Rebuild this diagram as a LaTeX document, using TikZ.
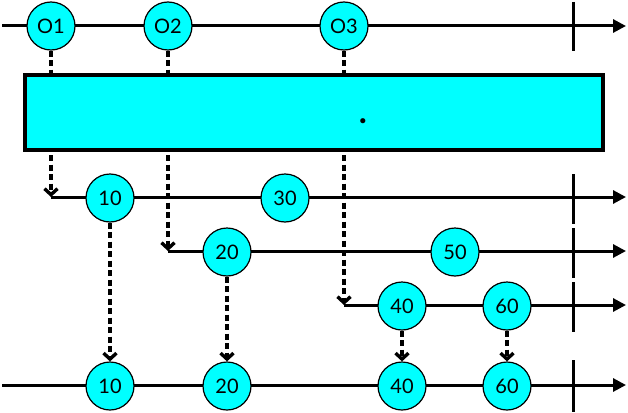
\documentclass[tikz,border=0pt]{standalone}
\usepackage{fontspec}
\setmainfont{Lato}
\usetikzlibrary{arrows.meta}
\definecolor{aqua}{RGB}{0,255,255}
\begin{document}
\begin{tikzpicture}[x=1pt,y=-1pt,
  ball/.style={circle,draw=black,line width=1.2pt,fill=aqua,minimum size=48pt,inner sep=0pt,font=\fontsize{20}{20}\selectfont},
  tl/.style={line width=3pt,-{Triangle[length=13pt,width=13pt]}},
  tick/.style={line width=3pt},
  dep/.style={line width=3.4pt,dash pattern=on 6pt off 3.5pt,-{Straight Barb[length=6pt,width=13pt]}},
  opbox/.style={draw=black,line width=3.5pt,fill=aqua,minimum width=578pt,minimum height=75pt,inner sep=0pt}]
\useasboundingbox (0,0) rectangle (628,412);
% timelines
\coordinate (s0) at (2,26);   \coordinate (e0) at (626,26);
\coordinate (s1) at (51,197); \coordinate (e1) at (626,197);
\coordinate (s2) at (168,251);\coordinate (e2) at (626,251);
\coordinate (s3) at (344,305);\coordinate (e3) at (626,305);
\coordinate (s4) at (2,385);  \coordinate (e4) at (626,385);
\draw[tl] (s0) -- (e0);
\draw[tl] (s1) -- (e1);
\draw[tl] (s2) -- (e2);
\draw[tl] (s3) -- (e3);
\draw[tl] (s4) -- (e4);
% ticks
\coordinate (t0a) at (573,2);   \coordinate (t0b) at (573,51);
\coordinate (t1a) at (573,174); \coordinate (t1b) at (573,224);
\coordinate (t2a) at (573,228); \coordinate (t2b) at (573,278);
\coordinate (t3a) at (573,282); \coordinate (t3b) at (573,332);
\coordinate (t4a) at (573,360); \coordinate (t4b) at (573,412);
\draw[tick] (t0a) -- (t0b);
\draw[tick] (t1a) -- (t1b);
\draw[tick] (t2a) -- (t2b);
\draw[tick] (t3a) -- (t3b);
\draw[tick] (t4a) -- (t4b);
% source balls
\node[ball] (o1) at (51,26) {O1};
\node[ball] (o2) at (168,26) {O2};
\node[ball] (o3) at (344,26) {O3};
% dashed into inner streams
\draw[dep] (o1.south) -- (s1);
\draw[dep] (o2.south) -- (s2);
\draw[dep] (o3.south) -- (s3);
% operator box
\node[opbox] (box) at (314,112.5) {};
\node[font=\bfseries\fontsize{34}{34}\selectfont,inner sep=0pt,anchor=base] (dot) at (363,123) {.};
% inner streams
\node[ball] (a10) at (110,198) {10};
\node[ball] (a30) at (285,198) {30};
\node[ball] (b20) at (227,252) {20};
\node[ball] (b50) at (455,252) {50};
\node[ball] (c40) at (402,306) {40};
\node[ball] (c60) at (507,306) {60};
% output
\node[ball] (r10) at (110,386) {10};
\node[ball] (r20) at (227,386) {20};
\node[ball] (r40) at (402,386) {40};
\node[ball] (r60) at (507,386) {60};
\draw[dep] (a10.south) -- (r10.north);
\draw[dep] (b20.south) -- (r20.north);
\draw[dep] (c40.south) -- (r40.north);
\draw[dep] (c60.south) -- (r60.north);
\end{tikzpicture}
\end{document}
